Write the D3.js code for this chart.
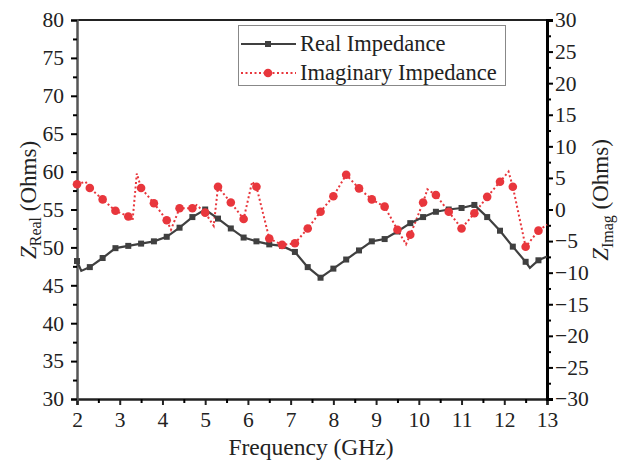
<!DOCTYPE html>
<html>
<head>
<meta charset="utf-8">
<script src="https://cdn.jsdelivr.net/npm/d3@7"></script>
<style>
  body { margin: 0; background: #fff; }
  svg text { font-family: "Liberation Serif", "Times New Roman", serif; }
</style>
</head>
<body>
<svg width="623" height="463"></svg>
<script>
// frequency (GHz) of every line vertex
const realFreq = [2.0, 2.1, 2.3, 2.6, 2.9, 3.2, 3.5, 3.8, 4.1, 4.4, 4.7, 5.0, 5.3, 5.6, 5.9, 6.2, 6.5, 6.8, 7.1, 7.4,
                  7.7, 8.0, 8.3, 8.6, 8.9, 9.2, 9.5, 9.8, 10.1, 10.4, 10.7, 11.0, 11.3, 11.6, 11.9, 12.2, 12.5, 12.6, 12.8, 13.0];
const realVals = [48.2, 46.9, 47.4, 48.6, 49.9, 50.2, 50.5, 50.8, 51.4, 52.6, 54.0, 55.0, 53.8, 52.5, 51.3, 50.8, 50.4, 50.2, 49.4, 47.4,
                  46.0, 47.2, 48.4, 49.6, 50.8, 51.1, 52.1, 53.2, 54.0, 54.7, 55.0, 55.2, 55.6, 54.0, 52.2, 50.1, 48.1, 47.3, 48.3, 48.8];

const imagFreq = [2.0, 2.2, 2.3, 2.6, 2.9, 3.2, 3.3, 3.4, 3.5, 3.8, 4.1, 4.2, 4.4, 4.7, 4.8, 5.0, 5.2, 5.3, 5.6, 5.9,
                  6.1, 6.2, 6.5, 6.8, 7.1, 7.4, 7.7, 8.0, 8.3, 8.6, 8.9, 9.2, 9.5, 9.7, 9.8, 10.1, 10.2, 10.4, 10.7, 11.0,
                  11.3, 11.6, 11.9, 12.1, 12.2, 12.5, 12.8, 13.0];
const imagVals = [4.0, 4.4, 3.4, 1.6, -0.2, -1.1, -1.8, 5.7, 3.4, 1.0, -1.7, -3.2, 0.2, 0.2, 0.7, -0.5, -2.6, 3.6, 1.1, -1.5,
                  4.4, 3.6, -4.6, -5.6, -5.35, -3.0, -0.35, 2.1, 5.5, 3.35, 1.6, 0.45, -3.2, -5.5, -4.0, 1.1, 3.2, 2.3, -0.35, -3.0,
                  -0.6, 2.0, 4.4, 6.0, 3.6, -5.9, -3.35, -2.4];

const xTicks = [2, 3, 4, 5, 6, 7, 8, 9, 10, 11, 12, 13];
const yLeftTicks = [30, 35, 40, 45, 50, 55, 60, 65, 70, 75, 80];
const yRightTicks = [-30, -25, -20, -15, -10, -5, 0, 5, 10, 15, 20, 25, 30];
const seriesNames = ["Real Impedance", "Imaginary Impedance"];

const svg = d3.select("svg");
const plotL = 77, plotR = 547, plotT = 20, plotB = 399;
const darkLine = "#404040";
const redLine = "#e8363c";
const serif = "Liberation Serif, serif";

const x = d3.scaleLinear().domain([2, 13]).range([plotL, plotR]);
const yL = d3.scaleLinear().domain([30, 80]).range([plotB, plotT]);
const yR = d3.scaleLinear().domain([-30, 30]).range([plotB, plotT]);

// markers are shown every third sample (0.3 GHz grid), like the original
const onGrid = f => Math.abs((f - 2) / 0.3 - Math.round((f - 2) / 0.3)) < 1e-6;

const realData = realFreq.map((f, i) => ({f: f, v: realVals[i]}));
const imagData = imagFreq.map((f, i) => ({f: f, v: imagVals[i]}));

// top frame line
svg.append("line")
  .attr("x1", plotL).attr("x2", plotR).attr("y1", plotT).attr("y2", plotT)
  .attr("stroke", "#222").attr("stroke-width", 2);

// axes
const xAxis = svg.append("g").attr("transform", "translate(0," + plotB + ")")
  .call(d3.axisBottom(x).tickValues(xTicks).tickSize(6).tickPadding(7).tickFormat(d3.format("d")));
svg.append("g").attr("transform", "translate(0," + plotB + ")")
  .call(d3.axisBottom(x).tickValues(d3.range(2.5, 13, 1)).tickSize(4).tickFormat(""))
  .select(".domain").remove();

const yAxisL = svg.append("g").attr("transform", "translate(" + plotL + ",0)")
  .call(d3.axisLeft(yL).tickValues(yLeftTicks).tickSize(6).tickPadding(7));
svg.append("g").attr("transform", "translate(" + plotL + ",0)")
  .call(d3.axisLeft(yL).tickValues(d3.range(32.5, 80, 5)).tickSize(4).tickFormat(""))
  .select(".domain").remove();

const yAxisR = svg.append("g").attr("transform", "translate(" + plotR + ",0)")
  .call(d3.axisRight(yR).tickValues(yRightTicks).tickSize(6).tickPadding(2));
svg.append("g").attr("transform", "translate(" + plotR + ",0)")
  .call(d3.axisRight(yR).tickValues(d3.range(-27.5, 30, 5)).tickSize(4).tickFormat(""))
  .select(".domain").remove();

svg.selectAll(".tick text")
  .style("font-family", serif)
  .style("font-size", "21.5px")
  .attr("fill", "#222");
svg.selectAll(".domain").attr("stroke-width", 2.5);
svg.selectAll(".tick line").attr("stroke-width", 2);
xAxis.selectAll(".domain, .tick line").attr("stroke", "#222");
yAxisL.select(".domain").attr("stroke", "#555");
yAxisR.select(".domain").attr("stroke", "#000").attr("stroke-width", 3);

// series lines
const lineR = d3.line().x(d => x(d.f)).y(d => yL(d.v));
const lineI = d3.line().x(d => x(d.f)).y(d => yR(d.v));

svg.append("path").datum(imagData)
  .attr("d", lineI).attr("fill", "none")
  .attr("stroke", redLine).attr("stroke-width", 2)
  .attr("stroke-dasharray", "2,2.5");

svg.append("path").datum(realData)
  .attr("d", lineR).attr("fill", "none")
  .attr("stroke", darkLine).attr("stroke-width", 2.2);

svg.selectAll(".rmk").data(realData.filter(d => onGrid(d.f))).enter()
  .append("rect").attr("class", "rmk")
  .attr("x", d => x(d.f) - 3).attr("y", d => yL(d.v) - 3)
  .attr("width", 6).attr("height", 6)
  .attr("fill", darkLine);

svg.selectAll(".imk").data(imagData.filter(d => onGrid(d.f))).enter()
  .append("circle").attr("class", "imk")
  .attr("cx", d => x(d.f)).attr("cy", d => yR(d.v))
  .attr("r", 4.3).attr("fill", redLine);

// axis titles
svg.append("text")
  .attr("x", 311).attr("y", 455).attr("text-anchor", "middle")
  .style("font-family", serif).style("font-size", "23.5px").attr("fill", "#222")
  .text("Frequency (GHz)");

function yTitle(cx, sub) {
  const t = svg.append("text")
    .attr("transform", "translate(" + cx + ",200) rotate(-90)")
    .attr("text-anchor", "middle")
    .style("font-family", serif).style("font-size", "23px").attr("fill", "#222");
  t.append("tspan").style("font-style", "italic").text("Z");
  t.append("tspan").attr("dy", 5).style("font-size", "16px").text(sub);
  t.append("tspan").attr("dy", -5).text(" (Ohms)");
}
yTitle(36, "Real");
yTitle(608, "Imag");

// legend
const lg = svg.append("g");
lg.append("rect")
  .attr("x", 238.5).attr("y", 25.5).attr("width", 267).attr("height", 60)
  .attr("fill", "#fff").attr("stroke", "#888").attr("stroke-width", 1);

const rows = [44, 73];
lg.append("line").attr("x1", 241).attr("x2", 296).attr("y1", rows[0]).attr("y2", rows[0])
  .attr("stroke", darkLine).attr("stroke-width", 2.2);
lg.append("rect").attr("x", 265).attr("y", rows[0] - 3).attr("width", 6).attr("height", 6).attr("fill", darkLine);
lg.append("line").attr("x1", 241).attr("x2", 296).attr("y1", rows[1]).attr("y2", rows[1])
  .attr("stroke", redLine).attr("stroke-width", 2).attr("stroke-dasharray", "2,2.5");
lg.append("circle").attr("cx", 268).attr("cy", rows[1]).attr("r", 4.3).attr("fill", redLine);

lg.selectAll(".lt").data(seriesNames).enter()
  .append("text").attr("class", "lt")
  .attr("x", 300).attr("y", (d, i) => rows[i] + 7)
  .style("font-family", serif).style("font-size", "22.5px").attr("fill", "#222")
  .text(d => d);
</script>
</body>
</html>
